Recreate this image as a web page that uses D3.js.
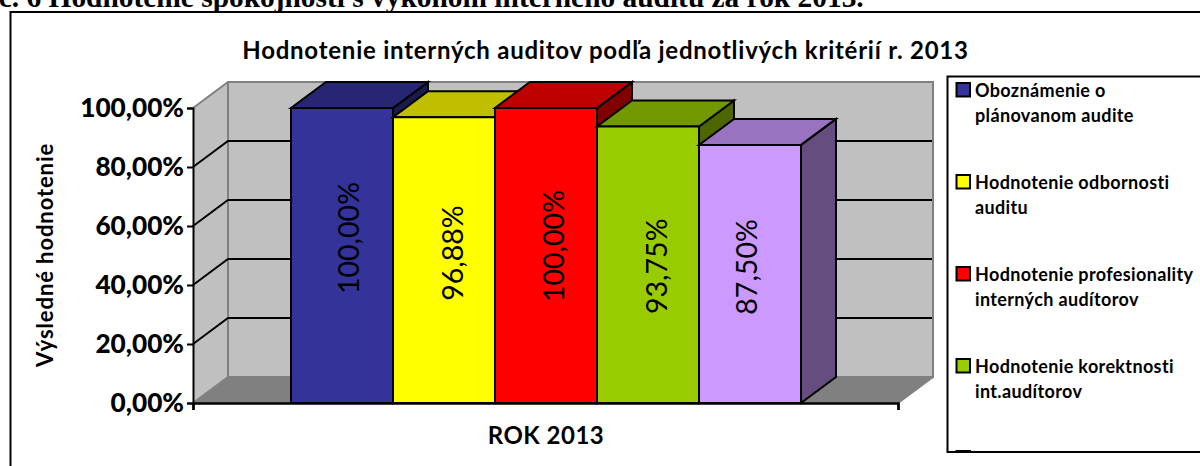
<!DOCTYPE html>
<html><head><meta charset="utf-8">
<script src="https://cdn.jsdelivr.net/npm/d3@7"></script>
<style>html,body{margin:0;padding:0;background:#fff;overflow:hidden}svg{display:block}text{font-family:Lato,sans-serif}</style>
</head><body><svg id="c" width="1200" height="466"></svg>
<script>
const category = "ROK 2013";
const seriesNames = ["Oboznámenie o|plánovanom audite","Hodnotenie odbornosti|auditu","Hodnotenie profesionality|interných audítorov","Hodnotenie korektnosti|int.audítorov",""];
const seriesValues = [100, 96.88, 100, 93.75, 87.5];
const seriesLabels = ["100,00%","96,88%","100,00%","93,75%","87,50%"];
const seriesColors = ["#333399","#ffff00","#ff0000","#99cc00","#cc99ff"];
const yTicks = [0,20,40,60,80,100];
const yTickLabels = ["0,00%","20,00%","40,00%","60,00%","80,00%","100,00%"];
const heading = "Graf č. 6 Hodnotenie spokojnosti s výkonom interného auditu za rok 2013.";
const chartTitle = "Hodnotenie interných auditov podľa jednotlivých kritérií r. 2013";
const yTitle = "Výsledné hodnotenie";

const svg = d3.select("#c");
const DX = 35, DY = -26;
const y = d3.scaleLinear().domain([0,100]).range([403,108]);
const xCat = d3.scaleBand().domain([category]).range([193,898]);
const pad = 98;
const xS = d3.scaleBand().domain(seriesValues.map((d,i)=>i)).range([xCat(category)+pad, xCat(category)+xCat.bandwidth()-pad+1]);
const poly = pts => pts.map(p=>p.join(",")).join(" ");
const shade = (c,k) => { const r=d3.rgb(c); return d3.rgb(r.r*k,r.g*k,r.b*k).formatHex(); };

// heading clipped by page top
svg.append("text").attr("x",-69).attr("y",7).attr("font-size",29.4).attr("font-weight",700)
  .style("font-family","'Liberation Serif',serif").text(heading);
// outer frame
svg.append("path").attr("d","M1200,12H10.5V466").attr("fill","none").attr("stroke","#000").attr("stroke-width",2);
// title
svg.append("text").attr("x",605.5).attr("y",59).attr("text-anchor","middle").attr("font-size",24).attr("letter-spacing",0.76).attr("font-weight",700).text(chartTitle);

const x0=193,x1=898,y0=y(0),y1=y(100);
// walls
const wall="#c0c0c0", edge="#808080";
svg.append("polygon").attr("points",poly([[x0,y0],[x0+DX,y0+DY],[x0+DX,y1+DY],[x0,y1]])).attr("fill",wall);
svg.append("polygon").attr("points",poly([[x0+DX,y0+DY],[x1+DX,y0+DY],[x1+DX,y1+DY],[x0+DX,y1+DY]])).attr("fill",wall);
svg.append("polygon").attr("points",poly([[x0,y0],[x1,y0],[x1+DX,y0+DY],[x0+DX,y0+DY]])).attr("fill",edge);
// wall edges
svg.append("path").attr("d",`M${x0},${y1}L${x0+DX},${y1+DY}H${x1+DX}V${y0+DY}H${x0+DX}V${y1+DY}M${x0},${y0}L${x0+DX},${y0+DY}M${x1},${y0}L${x1+DX},${y0+DY}`)
  .attr("fill","none").attr("stroke",edge).attr("stroke-width",2);
// gridlines
svg.append("g").selectAll("path").data(yTicks.filter(d=>d>0&&d<100)).join("path")
  .attr("d",d=>`M${x0},${y(d)}L${x0+DX},${y(d)+DY}H${x1+DX-1}`).attr("fill","none").attr("stroke","#000").attr("stroke-width",2);

// bars
const bars = svg.append("g").selectAll("g").data(seriesValues).join("g");
const bw = xS.bandwidth();
bars.each(function(v,i){
  const g=d3.select(this), L=xS(i), R=L+bw, T=y(v), B=y(0);
  const col=seriesColors[i];
  const add=(pts,f)=>g.append("polygon").attr("points",poly(pts)).attr("fill",f).attr("stroke","#000").attr("stroke-width",2);
  add([[R,B],[R+DX,B+DY],[R+DX,T+DY],[R,T]],shade(col,0.5));
  add([[L,T],[R,T],[R+DX,T+DY],[L+DX,T+DY]],shade(col,0.75));
  add([[L,T],[R,T],[R,B],[L,B]],col);
});
// data labels: hand-placed in the original, so each has its own nudge from the bar centre
const labelNudgeX = [17,19,18,19,7];
const labelNudgeY = [-17.5,-7,-9.5,1.5,-7];
bars.append("text").text((d,i)=>seriesLabels[i]).attr("font-size",28.5).attr("text-anchor","middle")
  .attr("transform",(d,i)=>`translate(${xS(i)+bw/2+labelNudgeX[i]},${y(d/2)+labelNudgeY[i]}) rotate(-90)`).attr("fill","#000");

// axes
const yAxis = d3.axisLeft(y).tickValues(yTicks).tickFormat((d,i)=>yTickLabels[i]).tickSize(6).tickPadding(3);
const gy = svg.append("g").attr("transform","translate(193,0)").call(yAxis);
gy.select(".domain").attr("stroke-width",2).attr("stroke","#000");
gy.selectAll("line").attr("stroke-width",2).attr("stroke","#000");
gy.selectAll("text").attr("font-size",26.2).attr("font-weight",900).attr("fill","#000").style("font-family","Lato,sans-serif");
const xAxis = d3.axisBottom(d3.scaleLinear().domain([0,1]).range([x0,x1])).tickValues([0,1]).tickFormat("").tickSize(7);
const gx = svg.append("g").attr("transform",`translate(0,${y0})`).call(xAxis);
gx.select(".domain").attr("stroke-width",2.5).attr("stroke","#000");
gx.selectAll("line").attr("stroke-width",2).attr("stroke","#000");

svg.append("text").attr("x",546).attr("y",444).attr("text-anchor","middle").attr("font-size",24).attr("letter-spacing",0.5).attr("font-weight",700).text(category);
svg.append("text").attr("transform","translate(53,255) rotate(-90)").attr("text-anchor","middle").attr("font-size",22).attr("letter-spacing",0.9).attr("font-weight",700).text(yTitle);

// legend
svg.append("clipPath").attr("id","lg").append("rect").attr("x",947).attr("y",76).attr("width",253).attr("height",376);
svg.append("path").attr("d","M1200,76.5H947.5V452H1200").attr("fill","#fff").attr("stroke","#000").attr("stroke-width",2);
const leg = svg.append("g").attr("clip-path","url(#lg)").selectAll("g").data(seriesNames).join("g").attr("transform",(d,i)=>`translate(0,${i*92})`);
leg.append("rect").attr("x",956.5).attr("y",83).attr("width",13.5).attr("height",13.5).attr("fill",(d,i)=>seriesColors[i]).attr("stroke","#000").attr("stroke-width",2);
leg.each(function(d){
  d.split("|").forEach((t,j)=>{ if(t) d3.select(this).append("text").attr("x",975).attr("y",97+j*25).attr("font-size",18).attr("letter-spacing",0.36).attr("font-weight",700).attr("fill","#000").text(t); });
});
</script></body></html>
